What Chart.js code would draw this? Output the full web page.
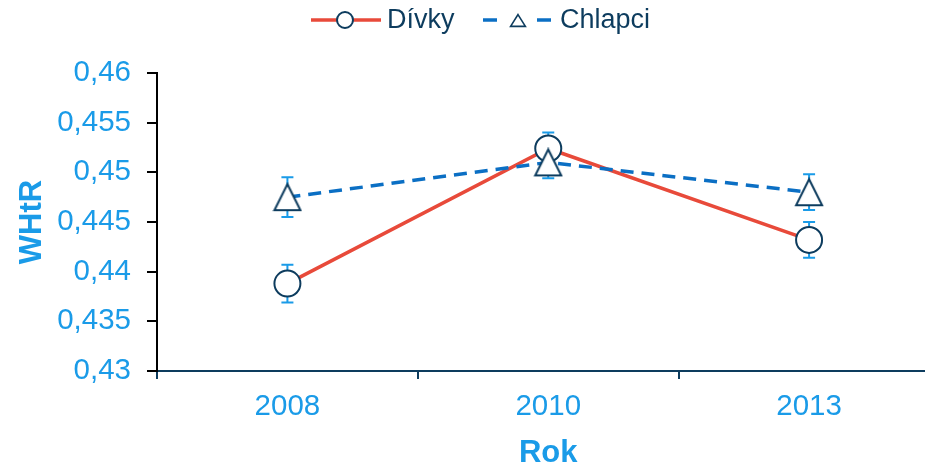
<!DOCTYPE html>
<html>
<head>
<meta charset="utf-8">
<script src="https://cdn.jsdelivr.net/npm/chart.js@4"></script>
<style>
  html, body { margin: 0; padding: 0; background: #fff; overflow: hidden; }
  canvas { display: block; }
</style>
</head>
<body>
<canvas id="whtrChart" width="958" height="464"></canvas>
<script>
// data
const years = ['2008', '2010', '2013'];
const divky = [0.4388, 0.4524, 0.4432];
const divkyErr = [0.0019, 0.0016, 0.0018];
const chlapci = [0.4475, 0.4510, 0.4480];
const chlapciErr = [0.0020, 0.0016, 0.0018];
const yTickLabels = ['0,43', '0,435', '0,44', '0,445', '0,45', '0,455', '0,46'];

const FONT = "'Liberation Sans', Arial, sans-serif";
const NAVY = '#0d3c5e';
const LIGHT = '#1a9be8';
const RED = '#e84a3a';
const BLUE = '#0b6fc4';

// triangle marker centred in its box, like the original
function triangleImg(w, h, lw) {
  const c = document.createElement('canvas');
  c.width = w; c.height = h;
  const g = c.getContext('2d');
  const p = lw;
  g.beginPath();
  g.moveTo(w / 2, p);
  g.lineTo(w - p, h - p);
  g.lineTo(p, h - p);
  g.closePath();
  g.fillStyle = '#fff';
  g.fill();
  g.lineWidth = lw;
  g.strokeStyle = NAVY;
  g.stroke();
  return c;
}
const triBig = triangleImg(30, 30, 2);
const triSmall = triangleImg(18, 15, 1.6);

const errorBars = {
  id: 'errorBars',
  beforeDatasetsDraw(chart) {
    const ctx = chart.ctx;
    const x = chart.scales.x, y = chart.scales.y;
    const sets = [[divky, divkyErr], [chlapci, chlapciErr]];
    ctx.save();
    ctx.strokeStyle = LIGHT;
    ctx.lineWidth = 2;
    sets.forEach(([vals, errs]) => {
      vals.forEach((v, i) => {
        const px = x.getPixelForValue(i);
        const top = y.getPixelForValue(v + errs[i]);
        const bot = y.getPixelForValue(v - errs[i]);
        ctx.beginPath();
        ctx.moveTo(px, top); ctx.lineTo(px, bot);
        ctx.moveTo(px - 6, top); ctx.lineTo(px + 6, top);
        ctx.moveTo(px - 6, bot); ctx.lineTo(px + 6, bot);
        ctx.stroke();
      });
    });
    ctx.restore();
  }
};

const customLegend = {
  id: 'customLegend',
  afterDraw(chart) {
    const ctx = chart.ctx;
    const cy = 20;
    ctx.save();
    // Dívky
    ctx.strokeStyle = RED;
    ctx.lineWidth = 3.5;
    ctx.beginPath(); ctx.moveTo(311, cy); ctx.lineTo(381, cy); ctx.stroke();
    ctx.beginPath(); ctx.arc(345, cy, 8, 0, Math.PI * 2);
    ctx.fillStyle = '#fff'; ctx.fill();
    ctx.lineWidth = 2; ctx.strokeStyle = NAVY; ctx.stroke();
    ctx.font = '27px ' + FONT;
    ctx.fillStyle = NAVY;
    ctx.textBaseline = 'middle';
    ctx.fillText('Dívky', 387, cy + 1);
    // Chlapci
    ctx.strokeStyle = BLUE;
    ctx.lineWidth = 3.5;
    ctx.beginPath(); ctx.moveTo(483, cy); ctx.lineTo(497, cy); ctx.stroke();
    ctx.beginPath(); ctx.moveTo(537, cy); ctx.lineTo(551, cy); ctx.stroke();
    ctx.drawImage(triSmall, 518 - 9, cy - 7);
    ctx.fillText('Chlapci', 560, cy + 1);
    ctx.restore();
  }
};

new Chart(document.getElementById('whtrChart'), {
  type: 'line',
  data: {
    labels: years,
    datasets: [
      {
        label: 'Dívky',
        data: divky,
        borderColor: RED,
        borderWidth: 3.5,
        pointStyle: 'circle',
        pointRadius: 13,
        pointBorderWidth: 2,
        pointBorderColor: NAVY,
        pointBackgroundColor: '#fff',
        order: 1
      },
      {
        label: 'Chlapci',
        data: chlapci,
        borderColor: BLUE,
        borderWidth: 3.5,
        borderDash: [13, 8],
        pointStyle: triBig,
        pointRadius: 15,
        order: 0
      }
    ]
  },
  options: {
    responsive: false,
    animation: false,
    layout: { padding: { top: 73, left: 0, right: 0, bottom: 0 } },
    plugins: { legend: { display: false }, tooltip: { enabled: false } },
    scales: {
      x: {
        offset: true,
        grid: { offset: true, drawOnChartArea: false, color: NAVY, tickLength: 8, lineWidth: 2 },
        border: { color: NAVY, width: 2 },
        ticks: { color: LIGHT, font: { family: FONT, size: 29.5 }, padding: 10 },
        title: { display: true, text: 'Rok', color: LIGHT, font: { family: FONT, size: 31, weight: 'bold' }, padding: { top: 5, bottom: -8 } },
        afterFit: s => { s.height = 93; }
      },
      y: {
        min: 0.43,
        max: 0.46,
        ticks: {
          stepSize: 0.005,
          color: LIGHT,
          font: { family: FONT, size: 29.5 },
          padding: 16,
          callback: (v, i) => yTickLabels[i]
        },
        grid: { drawOnChartArea: false, color: '#000', tickLength: 10, lineWidth: 2 },
        border: { color: '#000', width: 2 },
        title: { display: true, text: 'WHtR', color: LIGHT, font: { family: FONT, size: 31, weight: 'bold' }, padding: { top: 14, bottom: 0 } },
        afterFit: s => { s.width = 157; }
      }
    }
  },
  plugins: [errorBars, customLegend]
});
</script>
</body>
</html>
